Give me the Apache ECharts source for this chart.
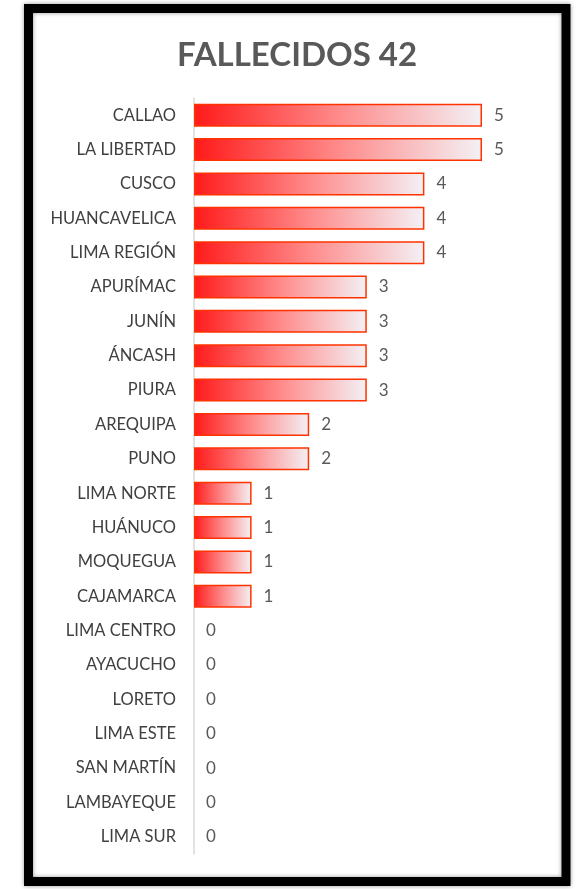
<!DOCTYPE html>
<html><head><meta charset="utf-8">
<script src="https://cdn.jsdelivr.net/npm/echarts@6/dist/echarts.min.js"></script>
<style>html,body{margin:0;padding:0;background:#fff}#c{width:578px;height:889px}</style>
</head><body><div id="c"></div>
<script>
const titleText = 'FALLECIDOS 42';
const categories = ['CALLAO','LA LIBERTAD','CUSCO','HUANCAVELICA','LIMA REGIÓN','APURÍMAC','JUNÍN','ÁNCASH','PIURA','AREQUIPA','PUNO','LIMA NORTE','HUÁNUCO','MOQUEGUA','CAJAMARCA','LIMA CENTRO','AYACUCHO','LORETO','LIMA ESTE','SAN MARTÍN','LAMBAYEQUE','LIMA SUR'];
const values = [5,5,4,4,4,3,3,3,3,2,2,1,1,1,1,0,0,0,0,0,0,0];
</script>
<script>
const chart = echarts.init(document.getElementById('c'), null, {renderer:'canvas'});
const barData = values.map(v => v === 0 ? {value:v,itemStyle:{borderWidth:0,opacity:1,color:'rgba(0,0,0,0)'}} : v);
chart.setOption({
  animation:false,
  backgroundColor:'#fff',
  title:{text:titleText,left:292,textAlign:'center',top:34,textStyle:{fontFamily:'Lato',fontWeight:'bold',fontSize:33,color:'#595959'}},
  grid:{left:194,right:96,top:98,bottom:35,containLabel:false},
  xAxis:{type:'value',min:0,max:5,show:false},
  yAxis:{type:'category',data:categories,inverse:true,
    axisLine:{lineStyle:{color:'#D9D9D9',width:1.5}},axisTick:{show:false},
    axisLabel:{margin:18,fontFamily:'Lato',fontSize:16.5,color:'#404040'}},
  series:[{type:'bar',data:barData,barWidth:23,
    itemStyle:{color:new echarts.graphic.LinearGradient(0,0,1,0,[{offset:0,color:'#FF1A1A'},{offset:0.5,color:'#FF8A8A'},{offset:1,color:'#F3F1F5'}]),borderColor:'#FF3300',borderWidth:1.5},
    label:{show:true,position:'right',distance:12,fontFamily:'Lato',fontSize:17,color:'#595959'}}],
  graphic:[{type:'rect',shape:{x:28.5,y:8.5,width:537.5,height:873},style:{fill:'none',stroke:'#000',lineWidth:9,shadowBlur:4,shadowColor:'rgba(0,0,0,0.4)'},z:100}]
});
</script></body></html>
